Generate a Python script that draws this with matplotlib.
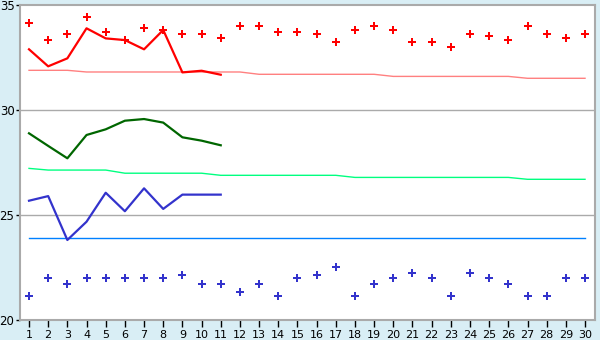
import numpy as np
import matplotlib.pyplot as plt

days = np.arange(1, 31)
days_short = np.arange(1, 12)

# valores
red_points = [34.13, 33.32, 33.6, 34.41, 33.7, 33.32, 33.89, 33.81, 33.6, 33.6,
              33.41, 33.98, 33.98, 33.7, 33.7, 33.6, 33.22, 33.79, 33.98, 33.79,
              33.22, 33.22, 32.98, 33.6, 33.51, 33.32, 33.98, 33.6, 33.41, 33.6]
red_line = [32.89, 32.08, 32.46, 33.89, 33.41, 33.33, 32.89, 33.81, 31.79, 31.87, 31.68]
red_ref = [31.89, 31.89, 31.89] + [31.81] * 9 + [31.70] * 7 + [31.60] * 7 + [31.51] * 4

green_line = [28.89, 28.29, 27.70, 28.81, 29.08, 29.49, 29.57, 29.40, 28.70, 28.54, 28.32]
green_ref = [27.22] + [27.14] * 4 + [26.99] * 5 + [26.89] * 7 + [26.79] * 9 + [26.70] * 4

blue_line = [25.68, 25.90, 23.81, 24.68, 26.06, 25.18, 26.27, 25.29, 25.97, 25.97, 25.97]
blue_ref = [23.89] * 30
blue_points = [21.13, 21.99, 21.70, 21.99, 21.99, 21.99, 21.99, 21.99, 22.13, 21.70,
               21.70, 21.32, 21.70, 21.13, 21.99, 22.13, 22.51, 21.13, 21.70, 21.99,
               22.22, 21.99, 21.13, 22.22, 21.99, 21.70, 21.13, 21.13, 21.99, 21.99]

bg = '#d9eef5'
fig = plt.figure(figsize=(6, 3.4), dpi=100, facecolor=bg)
ax = fig.add_axes([20 / 600, 20 / 340, 575 / 600, 315 / 340])
ax.set_facecolor('white')

for y in [25, 30]:
    ax.axhline(y, color='#aaaaaa', lw=1, zorder=1)

ax.plot(days, red_ref, color='#ff8080', lw=1, zorder=2)
ax.plot(days, green_ref, color='#00ff80', lw=1, zorder=2)
ax.plot(days, blue_ref, color='#0080ff', lw=1, zorder=2)

ax.plot(days_short, red_line, color='#ff0000', lw=1.6, zorder=3)
ax.plot(days_short, green_line, color='#006600', lw=1.6, zorder=3)
ax.plot(days_short, blue_line, color='#3333cc', lw=1.6, zorder=3)

ax.plot(days, red_points, ls='none', marker='P', ms=5.5, color='#ff0000', mew=0, zorder=4)
ax.plot(days, blue_points, ls='none', marker='P', ms=5.5, color='#3333cc', mew=0, zorder=4)

ax.set_xlim(0.53, 30.52)
ax.set_ylim(20, 35)
ax.set_xticks(days)
ax.set_yticks([20, 25, 30, 35])
ax.tick_params(axis='x', length=5, width=1, color='black', labelsize=8, pad=2)
ax.tick_params(axis='y', length=3, width=1, color='black', labelsize=8.5, pad=1)

for s in ax.spines.values():
    s.set_color('#aaaaaa')
    s.set_linewidth(1.5)

fig.savefig('out.png', dpi=100, facecolor=bg)
